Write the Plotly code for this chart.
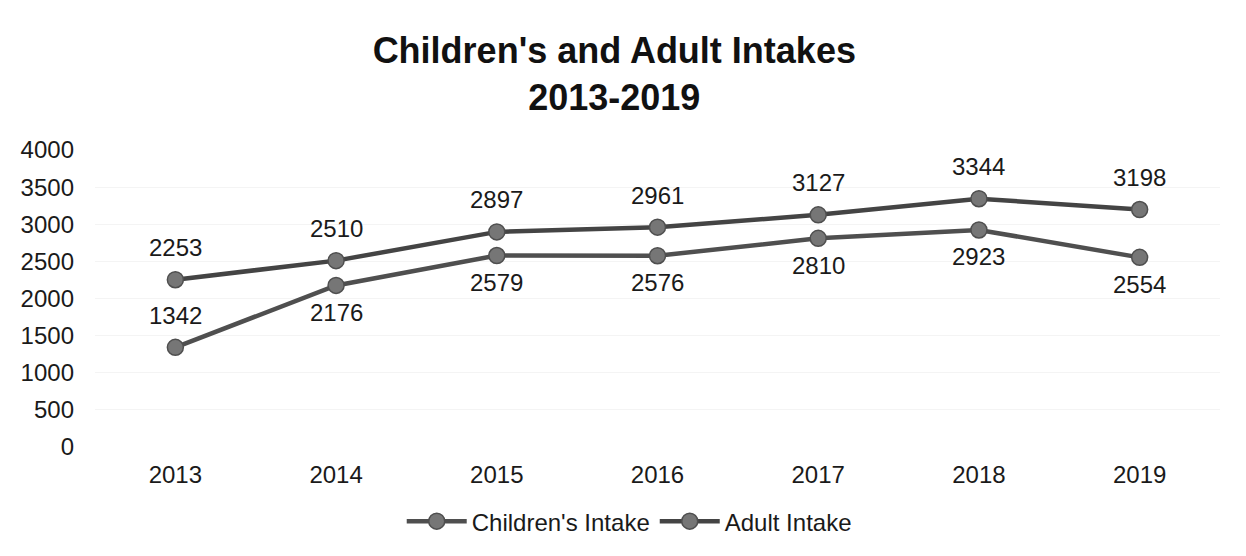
import plotly.graph_objects as go

years = ["2013", "2014", "2015", "2016", "2017", "2018", "2019"]
adult_intake = [2253, 2510, 2897, 2961, 3127, 3344, 3198]
children_intake = [1342, 2176, 2579, 2576, 2810, 2923, 2554]
children_label_side = ["above", "below", "below", "below", "below", "below", "below"]

y_ticks = [0, 500, 1000, 1500, 2000, 2500, 3000, 3500, 4000]

font_family = "Liberation Sans, Arial, sans-serif"
line_color = "#4f4f4f"
marker_fill = "#767676"
text_size = 24

fig = go.Figure()

fig.add_trace(go.Scatter(
    x=years, y=children_intake, name="Children's Intake",
    mode="lines+markers",
    line=dict(color=line_color, width=4.5),
    marker=dict(size=16, color=marker_fill, line=dict(color=line_color, width=1.5)),
))
fig.add_trace(go.Scatter(
    x=years, y=adult_intake, name="Adult Intake",
    mode="lines+markers",
    line=dict(color="#444444", width=4.5),
    marker=dict(size=16, color=marker_fill, line=dict(color=line_color, width=1.5)),
))

# value labels; category axis positions are given by index
label_font = dict(size=text_size, color="#1a1a1a", family=font_family)
annotations = []
for i, v in enumerate(adult_intake):
    annotations.append(dict(x=i, y=v, text=str(v), showarrow=False,
                            yshift=32, font=label_font))
for i, (v, side) in enumerate(zip(children_intake, children_label_side)):
    annotations.append(dict(x=i, y=v, text=str(v), showarrow=False,
                            yshift=32 if side == "above" else -27, font=label_font))

fig.update_layout(
    width=1246, height=556,
    margin=dict(l=95, r=26, t=150, b=109),
    paper_bgcolor="white", plot_bgcolor="white",
    font=dict(family=font_family, color="#1a1a1a"),
    title=dict(text="<b>Children's and Adult Intakes<br>2013-2019</b>",
               x=0.493, xref="container", xanchor="center",
               y=0.886, yref="container", yanchor="top",
               font=dict(size=36, family=font_family, color="#111111")),
    xaxis=dict(type="category", range=[-0.5, len(years) - 0.5],
               showgrid=False, showline=False, zeroline=False,
               tickfont=dict(size=text_size), ticks="outside", ticklen=6, tickcolor="white"),
    yaxis=dict(range=[0, 4000], tickvals=y_ticks, showgrid=True, gridcolor="#f4f4f4",
               gridwidth=1, zeroline=False, showline=False,
               tickfont=dict(size=text_size), ticklabelstandoff=20),
    legend=dict(orientation="h", x=0.505, xref="container", xanchor="center",
                y=0.062, yref="container", yanchor="middle",
                font=dict(size=text_size), itemwidth=60, traceorder="normal"),
    showlegend=True,
    annotations=annotations,
)

fig.write_html("out.html")
